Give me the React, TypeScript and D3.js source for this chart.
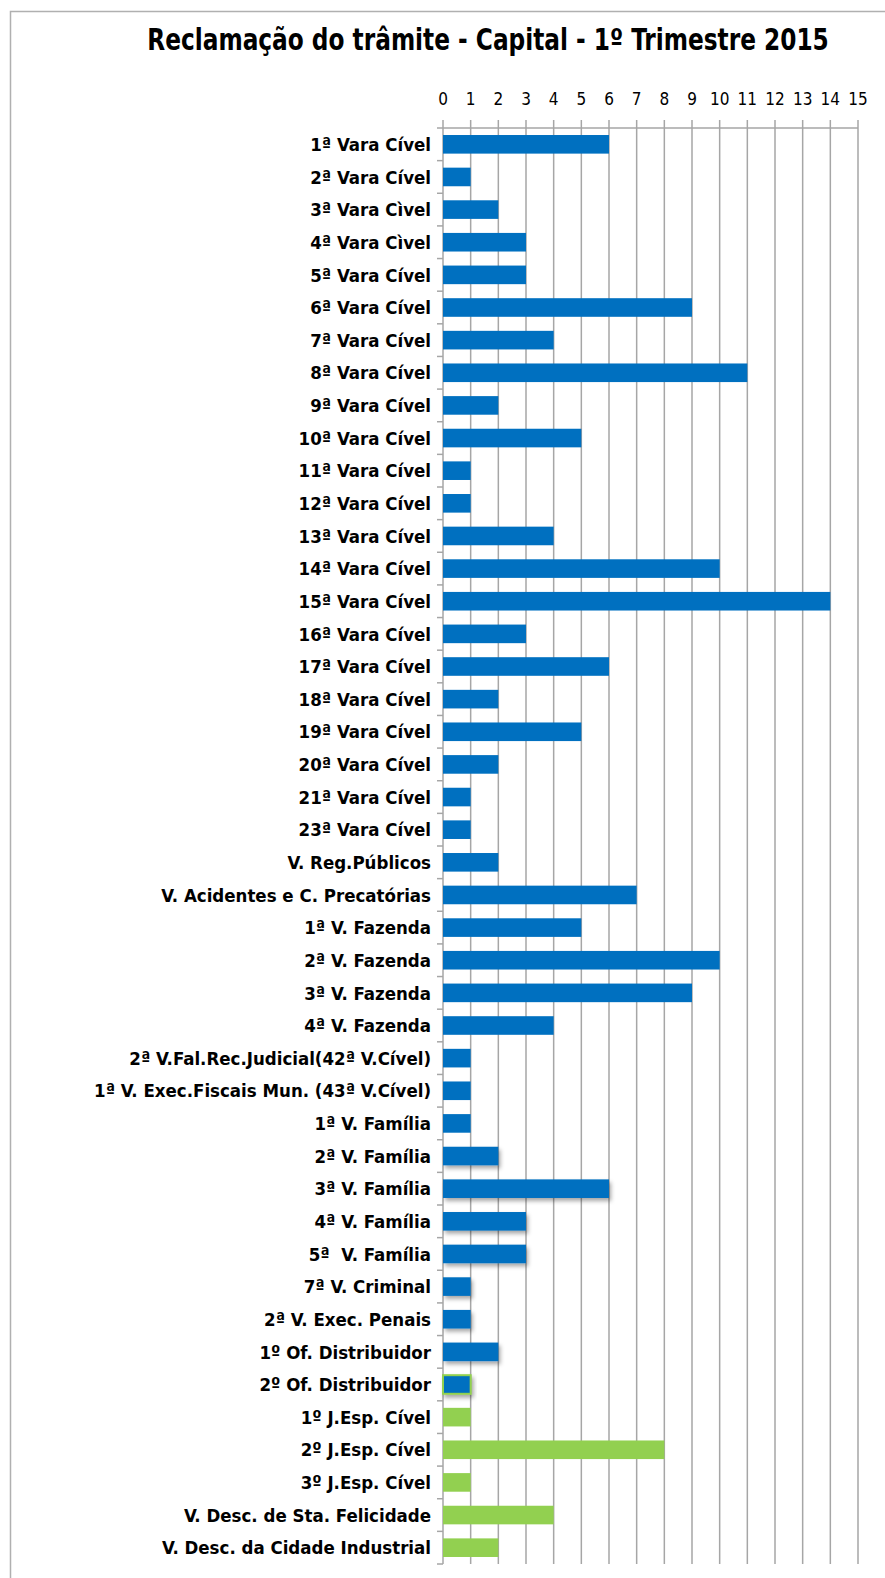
import * as d3 from "d3";

const width = 885;
const height = 1578;
const marginTop = 128;
const marginLeft = 443;
const plotRight = 858;
const plotBottom = 1564;

const categories = [
  "1ª Vara Cível",
  "2ª Vara Cível",
  "3ª Vara Cìvel",
  "4ª Vara Cìvel",
  "5ª Vara Cível",
  "6ª Vara Cível",
  "7ª Vara Cível",
  "8ª Vara Cível",
  "9ª Vara Cível",
  "10ª Vara Cível",
  "11ª Vara Cível",
  "12ª Vara Cível",
  "13ª Vara Cível",
  "14ª Vara Cível",
  "15ª Vara Cível",
  "16ª Vara Cível",
  "17ª Vara Cível",
  "18ª Vara Cível",
  "19ª Vara Cível",
  "20ª Vara Cível",
  "21ª Vara Cível",
  "23ª Vara Cível",
  "V. Reg.Públicos",
  "V. Acidentes e C. Precatórias",
  "1ª V. Fazenda",
  "2ª V. Fazenda",
  "3ª V. Fazenda",
  "4ª V. Fazenda",
  "2ª V.Fal.Rec.Judicial(42ª V.Cível)",
  "1ª V. Exec.Fiscais Mun. (43ª V.Cível)",
  "1ª V. Família",
  "2ª V. Família",
  "3ª V. Família",
  "4ª V. Família",
  "5ª  V. Família",
  "7ª V. Criminal",
  "2ª V. Exec. Penais",
  "1º Of. Distribuidor",
  "2º Of. Distribuidor",
  "1º J.Esp. Cível",
  "2º J.Esp. Cível",
  "3º J.Esp. Cível",
  "V. Desc. de Sta. Felicidade",
  "V. Desc. da Cidade Industrial",
];

const values = [
  6, 1, 2, 3, 3, 9, 4, 11, 2, 5, 1, 1, 4, 10, 14, 3, 6, 2, 5, 2, 1, 1, 2, 7, 5,
  10, 9, 4, 1, 1, 1, 2, 6, 3, 3, 1, 1, 2, 1, 1, 8, 1, 4, 2,
];

// "b" = blue bar, "g" = green bar, "bg" = blue bar with green outline
const groups = [
  "b", "b", "b", "b", "b", "b", "b", "b", "b", "b", "b", "b", "b", "b", "b",
  "b", "b", "b", "b", "b", "b", "b", "b", "b", "b", "b", "b", "b", "b", "b",
  "b", "b", "b", "b", "b", "b", "b", "b", "bg", "g", "g", "g", "g", "g",
];

// bars drawn with a drop shadow in the original
const shadowed = [
  "2ª V. Família",
  "3ª V. Família",
  "4ª V. Família",
  "5ª  V. Família",
  "7ª V. Criminal",
  "2ª V. Exec. Penais",
  "1º Of. Distribuidor",
  "2º Of. Distribuidor",
];

const xTicks = d3.range(0, 16);

const blue = "#0070C0";
const green = "#92D050";
const gridColor = "#a6a6a6";
const font = "'DejaVu Sans Condensed', 'Liberation Sans Narrow', sans-serif";

const App = () => {
  const x = d3.scaleLinear().domain([0, 15]).range([marginLeft, plotRight]);

  const y = d3
    .scaleBand<string>()
    .domain(categories)
    .range([marginTop, plotBottom])
    .paddingInner(0.43)
    .paddingOuter(0.215);

  const step = y.step();
  const bandStarts = d3.range(0, categories.length + 1).map((i) => marginTop + i * step);

  return (
    <svg width={width} height={height} style={{ display: "block", position: "absolute", left: 0, top: 0 }}>
      <defs>
        <filter id="barShadow" x="-10%" y="-30%" width="130%" height="180%">
          <feDropShadow dx={2} dy={3} stdDeviation={2} floodColor="#000" floodOpacity={0.35} />
        </filter>
      </defs>
      <rect x={0} y={0} width={width} height={height} fill="#fff" />
      {/* chart frame */}
      <path d={`M10.5,${height} V11.5 H${width}`} fill="none" stroke="#b0b0b0" strokeWidth={1.5} />

      <g transform="translate(488,50) scale(0.862,1)">
        <text
          x={0}
          y={0}
          textAnchor="middle"
          fontFamily={font}
          fontWeight="bold"
          fontSize={30}
          fill="#000"
        >
          Reclamação do trâmite - Capital - 1º Trimestre 2015
        </text>
      </g>

      {/* gridlines */}
      {xTicks.map((t) => (
        <line
          key={t}
          x1={x(t)}
          x2={x(t)}
          y1={marginTop - 8}
          y2={plotBottom}
          stroke={gridColor}
          strokeWidth={1.5}
        />
      ))}
      <line x1={x(0)} x2={x(15)} y1={marginTop} y2={marginTop} stroke={gridColor} strokeWidth={1.5} />

      {/* tick labels */}
      {xTicks.map((t) => (
        <text
          key={t}
          x={x(t)}
          y={105}
          textAnchor="middle"
          fontFamily={font}
          fontSize={17}
          fill="#000"
        >
          {t}
        </text>
      ))}

      {/* category ticks */}
      {bandStarts.map((yy, i) => (
        <line key={i} x1={x(0) - 6} x2={x(0)} y1={yy} y2={yy} stroke={gridColor} strokeWidth={1.5} />
      ))}

      {/* bars */}
      {categories.map((c, i) => {
        const g = groups[i];
        const fill = g === "g" ? green : blue;
        return (
          <rect
            key={c}
            x={x(0)}
            y={y(c)}
            width={x(values[i]) - x(0)}
            height={y.bandwidth()}
            fill={fill}
            stroke={g === "bg" ? green : "none"}
            strokeWidth={g === "bg" ? 2 : 0}
            filter={shadowed.includes(c) ? "url(#barShadow)" : undefined}
          />
        );
      })}

      {/* category labels */}
      {categories.map((c) => (
        <text
          key={c}
          x={431}
          y={(y(c) as number) + y.bandwidth() / 2}
          dy="0.36em"
          textAnchor="end"
          fontFamily={font}
          fontWeight="bold"
          fontSize={18.5}
          fill="#000"
          style={{ whiteSpace: "pre" }}
        >
          {c}
        </text>
      ))}
    </svg>
  );
};

export default App;
